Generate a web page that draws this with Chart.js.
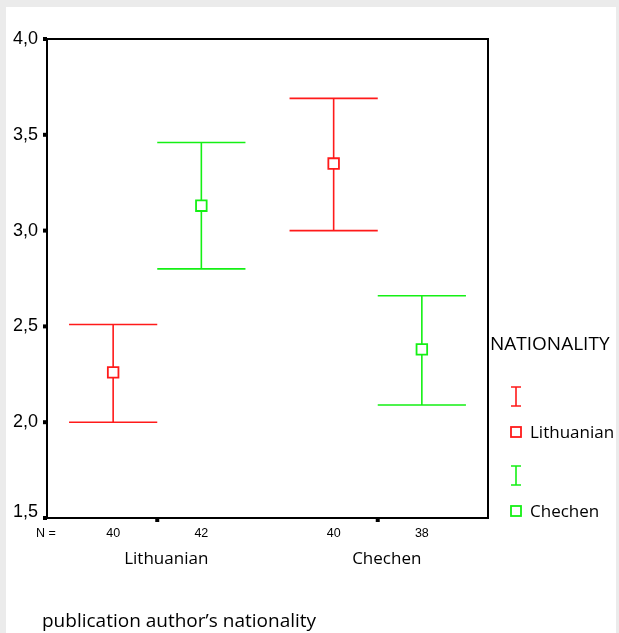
<!DOCTYPE html>
<html lang="en">
<head>
    <meta charset="UTF-8">
    <title>Error bars by nationality</title>
    <style>
        body {
            margin: 0;
            background-color: #ebebeb;
            width: 619px;
            height: 633px;
            overflow: hidden;
            position: relative;
        }
        #sheet {
            position: absolute;
            left: 6px;
            top: 7px;
            width: 610px;
            height: 626px;
            background-color: white;
        }
        #chart {
            position: absolute;
            left: 0;
            top: 0;
        }
    </style>
</head>
<body>
    <div id="sheet"></div>
    <canvas id="chart" width="619" height="633"></canvas>

    <script src="https://cdn.jsdelivr.net/npm/chart.js"></script>
    <script>
        // groups on the x axis and the two series
        const groups = ['Lithuanian', 'Chechen'];
        const seriesNames = ['Lithuanian', 'Chechen'];
        const legendTitle = 'NATIONALITY';
        const xTitle = 'publication author\u2019s nationality';

        // Lithuanian series (red): mean and 95% CI per group
        const lithMean = [2.26, 3.35];
        const lithLow = [2.00, 3.00];
        const lithHigh = [2.51, 3.69];
        const lithN = [40, 40];

        // Chechen series (green)
        const chechMean = [3.13, 2.38];
        const chechLow = [2.80, 2.09];
        const chechHigh = [3.46, 2.66];
        const chechN = [42, 38];

        const yTicks = [1.5, 2.0, 2.5, 3.0, 3.5, 4.0];

        const RED = '#ff1a1a';
        const GREEN = '#14f014';
        const OFFSET = 0.2;   // shift of each series from the group centre
        const CAP = 0.2;      // half width of error bar caps

        function points(means, shift) {
            return means.map((m, i) => ({ x: i + 0.5 + shift, y: m }));
        }

        const series = [
            { name: seriesNames[0], mean: lithMean, low: lithLow, high: lithHigh, n: lithN, color: RED, shift: -OFFSET },
            { name: seriesNames[1], mean: chechMean, low: chechLow, high: chechHigh, n: chechN, color: GREEN, shift: OFFSET }
        ];

        const spssPlugin = {
            id: 'spss',
            beforeDatasetsDraw(chart) {
                const ctx = chart.ctx;
                const xs = chart.scales.x, ys = chart.scales.y;
                const area = chart.chartArea;

                // frame
                ctx.save();
                ctx.strokeStyle = 'black';
                ctx.lineWidth = 2;
                ctx.strokeRect(area.left, area.top, area.right - area.left, area.bottom - area.top);

                // y ticks + labels
                ctx.fillStyle = 'black';
                ctx.font = '18px "Liberation Sans", Arial, sans-serif';
                ctx.textAlign = 'right';
                ctx.textBaseline = 'middle';
                yTicks.forEach((t, i) => {
                    const y = ys.getPixelForValue(t);
                    ctx.fillRect(area.left - 4, y - 2, 4, 4);
                    const lift = i === 0 ? -6 : 0;
                    ctx.fillText(t.toFixed(1).replace('.', ','), area.left - 9, y + lift);
                });

                // x ticks between series, N counts and group labels
                groups.forEach((g, i) => {
                    const cx = xs.getPixelForValue(i + 0.5);
                    ctx.fillRect(cx - 2, area.bottom, 4, 4);
                    ctx.font = '17px "Open Sans", sans-serif';
                    ctx.textAlign = 'center';
                    ctx.fillText(g, cx + 9, area.bottom + 41);
                    ctx.font = '12.5px "Liberation Sans", Arial, sans-serif';
                    series.forEach(s => {
                        ctx.fillText(String(s.n[i]), xs.getPixelForValue(i + 0.5 + s.shift), area.bottom + 16);
                    });
                });
                ctx.textAlign = 'left';
                ctx.fillText('N =', area.left - 11, area.bottom + 16);

                // x title
                ctx.font = '19px "Open Sans", sans-serif';
                ctx.fillText(xTitle, 42, 622);

                // error bars
                ctx.lineWidth = 1.6;
                series.forEach(s => {
                    ctx.strokeStyle = s.color;
                    s.mean.forEach((m, i) => {
                        const xv = i + 0.5 + s.shift;
                        const x = xs.getPixelForValue(xv);
                        const x0 = xs.getPixelForValue(xv - CAP);
                        const x1 = xs.getPixelForValue(xv + CAP);
                        const yl = ys.getPixelForValue(s.low[i]);
                        const yh = ys.getPixelForValue(s.high[i]);
                        ctx.beginPath();
                        ctx.moveTo(x, yl); ctx.lineTo(x, yh);
                        ctx.moveTo(x0, yl); ctx.lineTo(x1, yl);
                        ctx.moveTo(x0, yh); ctx.lineTo(x1, yh);
                        ctx.stroke();
                    });
                });

                // legend
                ctx.fillStyle = 'black';
                ctx.font = '19px "Open Sans", sans-serif';
                ctx.textAlign = 'left';
                ctx.fillText(legendTitle, 490, 345);
                ctx.font = '17px "Open Sans", sans-serif';
                series.forEach((s, k) => {
                    const top = 387 + k * 79;
                    const lx = 516;
                    ctx.strokeStyle = s.color;
                    ctx.lineWidth = 1.6;
                    ctx.beginPath();
                    ctx.moveTo(lx, top); ctx.lineTo(lx, top + 19);
                    ctx.moveTo(lx - 5, top); ctx.lineTo(lx + 5, top);
                    ctx.moveTo(lx - 5, top + 19); ctx.lineTo(lx + 5, top + 19);
                    ctx.stroke();
                    ctx.lineWidth = 1.8;
                    ctx.strokeRect(lx - 5, top + 40, 10, 10);
                    ctx.fillStyle = 'black';
                    ctx.fillText(s.name, lx + 14, top + 46);
                });
                ctx.restore();
            }
        };

        new Chart(document.getElementById('chart'), {
            type: 'scatter',
            data: {
                datasets: series.map(s => ({
                    label: s.name,
                    data: points(s.mean, s.shift),
                    pointStyle: 'rect',
                    pointRadius: 7.5,
                    pointHoverRadius: 7.5,
                    borderColor: s.color,
                    backgroundColor: 'white',
                    borderWidth: 1.8
                }))
            },
            options: {
                responsive: false,
                animation: false,
                layout: { padding: { left: 47, right: 131, top: 39, bottom: 115 } },
                plugins: { legend: { display: false }, tooltip: { enabled: false } },
                scales: {
                    x: { type: 'linear', min: 0, max: 2, display: false },
                    y: { type: 'linear', min: 1.5, max: 4.0, display: false }
                }
            },
            plugins: [spssPlugin]
        });
    </script>
</body>
</html>
